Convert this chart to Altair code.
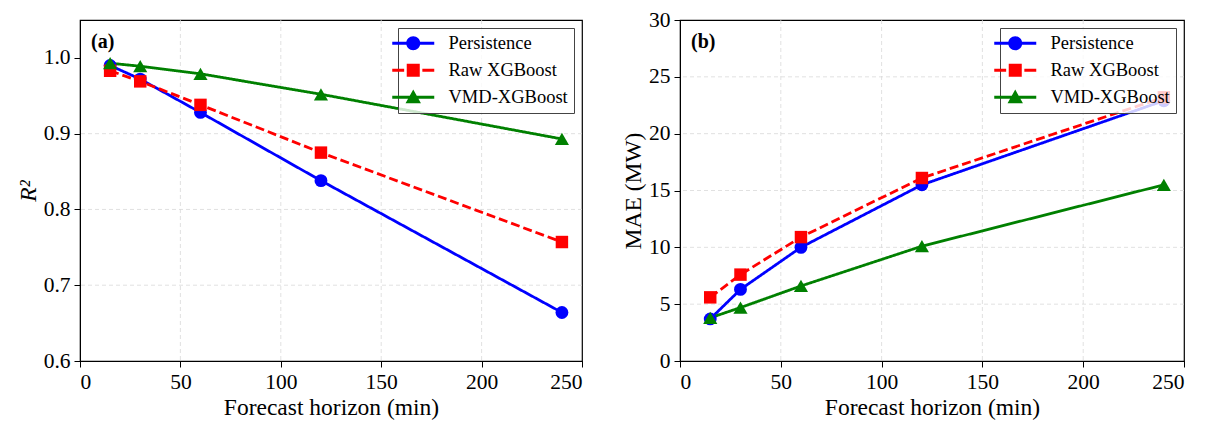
import altair as alt
import pandas as pd

horizons = [15, 30, 60, 120, 240]
series_names = ["Persistence", "Raw XGBoost", "VMD-XGBoost"]
series_colors = ["#0000ff", "#ff0000", "#008000"]
series_dash = [[1, 0], [9, 4], [1, 0]]

r2_persistence = [0.990, 0.972, 0.928, 0.838, 0.664]
r2_raw = [0.983, 0.969, 0.938, 0.875, 0.757]
r2_vmd = [0.993, 0.989, 0.979, 0.952, 0.893]

mae_persistence = [3.7, 6.3, 10.0, 15.5, 22.9]
mae_raw = [5.6, 7.6, 10.9, 16.1, 23.2]
mae_vmd = [3.8, 4.7, 6.6, 10.1, 15.5]

x_ticks = [0, 50, 100, 150, 200, 250]
r2_ticks = [0.6, 0.7, 0.8, 0.9, 1.0]
mae_ticks = [0, 5, 10, 15, 20, 25, 30]

# legend glyphs: line + marker as custom paths (unit = 7 px)
legend_shapes = [
    "M-3,-0.21H3V0.21H-3Z M1,0A1,1,0,1,1,-1,0A1,1,0,1,1,1,0Z",
    "M-3,-0.21H-1.3V0.21H-3Z M1.3,-0.21H3V0.21H1.3Z M-0.93,-0.93H0.93V0.93H-0.93Z",
    "M-3,-0.21H3V0.21H-3Z M0,-1.1L1.1,0.85H-1.1Z",
]
point_shapes = ["circle", "square", "triangle-up"]
point_sizes = [165, 155, 200]

FONT = "Liberation Serif"


def make_df(vals):
    rows = []
    for name, v in zip(series_names, vals):
        for h, y in zip(horizons, v):
            rows.append({"h": h, "v": y, "series": name})
    return pd.DataFrame(rows)


def panel(vals, ydomain, yticks, ytitle, yfmt, label, width, title_italic=False):
    df = make_df(vals)
    base = alt.Chart(df)
    xs = alt.Scale(domain=[0, 250], nice=False)
    ys = alt.Scale(domain=ydomain, nice=False, zero=False)
    x = alt.X("h:Q", scale=xs,
              axis=alt.Axis(values=x_ticks, title="Forecast horizon (min)", format="d", grid=False))
    y = alt.Y("v:Q", scale=ys,
              axis=alt.Axis(values=yticks, title=ytitle, format=yfmt, grid=False,
                            titleFontStyle="italic" if title_italic else "normal"))
    grid_style = dict(color="#d9d9d9", strokeDash=[4, 3], strokeWidth=0.8)
    vgrid = alt.Chart(pd.DataFrame({"h": x_ticks[1:-1]})).mark_rule(**grid_style).encode(x=x)
    hgrid = alt.Chart(pd.DataFrame({"v": yticks[1:-1]})).mark_rule(**grid_style).encode(y=y)
    layers = [vgrid, hgrid]
    for name, col, dash in zip(series_names, series_colors, series_dash):
        layers.append(
            base.transform_filter(alt.datum.series == name)
            .mark_line(strokeWidth=2.8, color=col, strokeDash=dash)
            .encode(x=x, y=y)
        )
    for name, col, shp, sz in zip(series_names, series_colors, point_shapes, point_sizes):
        layers.append(
            base.transform_filter(alt.datum.series == name)
            .mark_point(shape=shp, filled=True, opacity=1, size=sz, color=col)
            .encode(x=x, y=y)
        )
    legend_props = dict(title=None, orient="top-right", offset=8,
                        strokeColor="#444444", fillColor="rgba(255,255,255,0.8)",
                        padding=6, labelFont=FONT, labelFontSize=18.5,
                        symbolSize=196, labelOffset=26, rowPadding=8,
                        symbolStrokeWidth=0, symbolOpacity=1)
    leg = base.mark_point(filled=True, opacity=0).encode(
        x=x, y=y,
        color=alt.Color("series:N", scale=alt.Scale(domain=series_names, range=series_colors),
                        legend=alt.Legend(**legend_props)),
        shape=alt.Shape("series:N", scale=alt.Scale(domain=series_names, range=legend_shapes),
                        legend=alt.Legend(**legend_props)),
    )
    layers.append(leg)
    txt = alt.Chart(pd.DataFrame({"t": [label]})).mark_text(
        font=FONT, fontSize=20, fontWeight="bold", align="left", baseline="middle", color="black"
    ).encode(text="t:N", x=alt.value(11), y=alt.value(22))
    layers.append(txt)
    return alt.layer(*layers).properties(width=width, height=341)


left = panel([r2_persistence, r2_raw, r2_vmd], [0.6, 1.05], r2_ticks, "R²", ".1f", "(a)", 502, title_italic=True)
right = panel([mae_persistence, mae_raw, mae_vmd], [0, 30], mae_ticks, "MAE (MW)", "d", "(b)", 504)

chart = alt.hconcat(left, right, spacing=36).resolve_legend(color="independent", shape="independent").properties(
    padding={"left": 7, "top": 0, "right": 0, "bottom": 0}
).configure_view(stroke="black", strokeWidth=1.2).configure_axis(
    labelFont=FONT, labelFontSize=21.5, labelColor="black",
    titleFont=FONT, titleFontSize=23.5, titleFontWeight="normal", titleColor="black",
    tickColor="black", domainColor="black", tickSize=6, labelPadding=4, titlePadding=3,
).configure_legend(labelColor="black", labelFont=FONT, labelFontSize=18.5)

chart.save("out.html", embed_options={"renderer": "svg", "actions": False})
